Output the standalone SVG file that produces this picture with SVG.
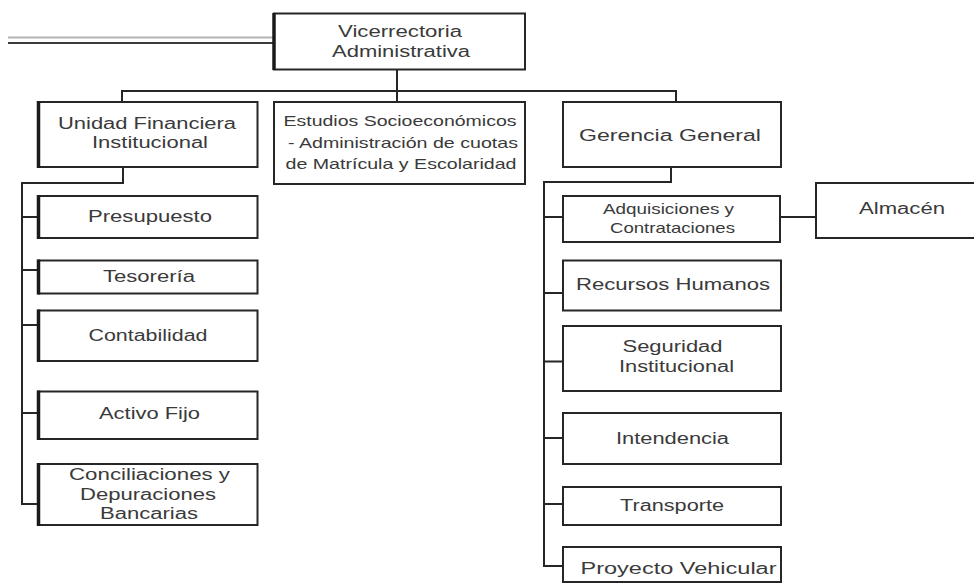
<svg xmlns="http://www.w3.org/2000/svg" width="974" height="584" viewBox="0 0 974 584">
  <style>
    .box { fill: #ffffff; stroke: #262626; stroke-width: 2; }
    .edge { stroke: #1a1a1a; stroke-width: 3.5; fill: none; }
    .wire { stroke: #262626; stroke-width: 2; fill: none; }
    .t { font-family: "Liberation Sans", Arial, sans-serif; font-size: 16px; fill: #3a3a3a; text-anchor: middle; }
    .s { font-size: 15px; }
  </style>
  <rect width="974" height="584" fill="#ffffff"/>

  <!-- connectors -->
  <g id="connectors">
    <line x1="8" y1="37.5" x2="274" y2="37.5" stroke="#b4b4b4" stroke-width="1.8"/>
    <line x1="8" y1="43" x2="274" y2="43" stroke="#3c3c3c" stroke-width="2"/>
    <path class="wire" d="M397 69.5 V102"/>
    <path class="wire" d="M122 102 V91 H676 V102"/>
    <!-- financial unit branch -->
    <path class="wire" d="M123 167 V183 H22 V504 H38"/>
    <path class="wire" d="M22 217 H38 M22 270 H38 M22 325 H38 M22 413 H38"/>
    <!-- general management branch -->
    <path class="wire" d="M671 167 V182 H544 V566 H563"/>
    <path class="wire" d="M544 217 H563 M544 293 H563 M544 361.5 H563 M544 438 H563 M544 504 H563"/>
    <path class="wire" d="M780 217 H816"/>
  </g>

  <g id="vicerrectoria">
    <rect class="box" x="274" y="13.5" width="251" height="56"/>
    <path class="edge" d="M274 13 V70"/>
    <text class="t" x="400" y="37" textLength="124" lengthAdjust="spacingAndGlyphs">Vicerrectoria</text>
    <text class="t" x="401" y="57" textLength="138" lengthAdjust="spacingAndGlyphs">Administrativa</text>
  </g>

  <g id="unidad-financiera">
    <rect class="box" x="38.5" y="102" width="219" height="65"/>
    <path class="edge" d="M38.5 101 V168"/>
    <text class="t" x="147" y="129" textLength="178" lengthAdjust="spacingAndGlyphs">Unidad Financiera</text>
    <text class="t" x="150" y="148" textLength="116" lengthAdjust="spacingAndGlyphs">Institucional</text>
  </g>

  <g id="estudios-socioeconomicos">
    <rect class="box" x="274" y="102" width="251" height="82"/>
    <text class="t s" x="400" y="125.5" textLength="233" lengthAdjust="spacingAndGlyphs">Estudios Socioeconómicos</text>
    <text class="t s" x="403" y="148" textLength="230" lengthAdjust="spacingAndGlyphs">- Administración de cuotas</text>
    <text class="t s" x="401" y="168.5" textLength="231" lengthAdjust="spacingAndGlyphs">de Matrícula y Escolaridad</text>
  </g>

  <g id="gerencia-general">
    <rect class="box" x="563" y="102" width="218" height="65"/>
    <text class="t" x="670" y="141" textLength="182" lengthAdjust="spacingAndGlyphs">Gerencia General</text>
  </g>

  <g id="presupuesto">
    <rect class="box" x="38.5" y="196" width="219" height="42"/>
    <path class="edge" d="M38.5 195 V239"/>
    <text class="t" x="150" y="222" textLength="124" lengthAdjust="spacingAndGlyphs">Presupuesto</text>
  </g>

  <g id="tesoreria">
    <rect class="box" x="38.5" y="260.5" width="219" height="33"/>
    <path class="edge" d="M38.5 259.5 V294.5"/>
    <text class="t" x="149" y="281.5" textLength="92" lengthAdjust="spacingAndGlyphs">Tesorería</text>
  </g>

  <g id="contabilidad">
    <rect class="box" x="38.5" y="310.5" width="219" height="50.5"/>
    <path class="edge" d="M38.5 309.5 V362"/>
    <text class="t" x="148" y="341" textLength="119" lengthAdjust="spacingAndGlyphs">Contabilidad</text>
  </g>

  <g id="activo-fijo">
    <rect class="box" x="38.5" y="391.5" width="219" height="47.5"/>
    <path class="edge" d="M38.5 390.5 V440"/>
    <text class="t" x="149.5" y="419" textLength="101" lengthAdjust="spacingAndGlyphs">Activo Fijo</text>
  </g>

  <g id="conciliaciones">
    <rect class="box" x="38.5" y="464" width="219" height="61"/>
    <path class="edge" d="M38.5 463 V526"/>
    <text class="t" x="149.5" y="480" textLength="161" lengthAdjust="spacingAndGlyphs">Conciliaciones y</text>
    <text class="t" x="148" y="499.5" textLength="136" lengthAdjust="spacingAndGlyphs">Depuraciones</text>
    <text class="t" x="149" y="519" textLength="98" lengthAdjust="spacingAndGlyphs">Bancarias</text>
  </g>

  <g id="adquisiciones">
    <rect class="box" x="563" y="196" width="217" height="46"/>
    <text class="t s" x="668.5" y="214" textLength="131" lengthAdjust="spacingAndGlyphs">Adquisiciones y</text>
    <text class="t s" x="672.5" y="233" textLength="125" lengthAdjust="spacingAndGlyphs">Contrataciones</text>
  </g>

  <g id="almacen">
    <rect class="box" x="816" y="183" width="170" height="55"/>
    <text class="t" x="902" y="214" textLength="86" lengthAdjust="spacingAndGlyphs">Almacén</text>
  </g>

  <g id="recursos-humanos">
    <rect class="box" x="563" y="260.5" width="218" height="50"/>
    <text class="t" x="673" y="290" textLength="194" lengthAdjust="spacingAndGlyphs">Recursos Humanos</text>
  </g>

  <g id="seguridad">
    <rect class="box" x="563" y="326" width="218" height="65"/>
    <text class="t" x="672.5" y="352" textLength="100" lengthAdjust="spacingAndGlyphs">Seguridad</text>
    <text class="t" x="676.5" y="372" textLength="115" lengthAdjust="spacingAndGlyphs">Institucional</text>
  </g>

  <g id="intendencia">
    <rect class="box" x="563" y="413" width="218" height="51"/>
    <text class="t" x="672.5" y="444" textLength="113" lengthAdjust="spacingAndGlyphs">Intendencia</text>
  </g>

  <g id="transporte">
    <rect class="box" x="563" y="487" width="218" height="38"/>
    <text class="t" x="672" y="510.5" textLength="104" lengthAdjust="spacingAndGlyphs">Transporte</text>
  </g>

  <g id="proyecto-vehicular">
    <rect class="box" x="563" y="547" width="218" height="35"/>
    <text class="t" x="678.5" y="573.5" textLength="196" lengthAdjust="spacingAndGlyphs">Proyecto Vehicular</text>
  </g>
</svg>
